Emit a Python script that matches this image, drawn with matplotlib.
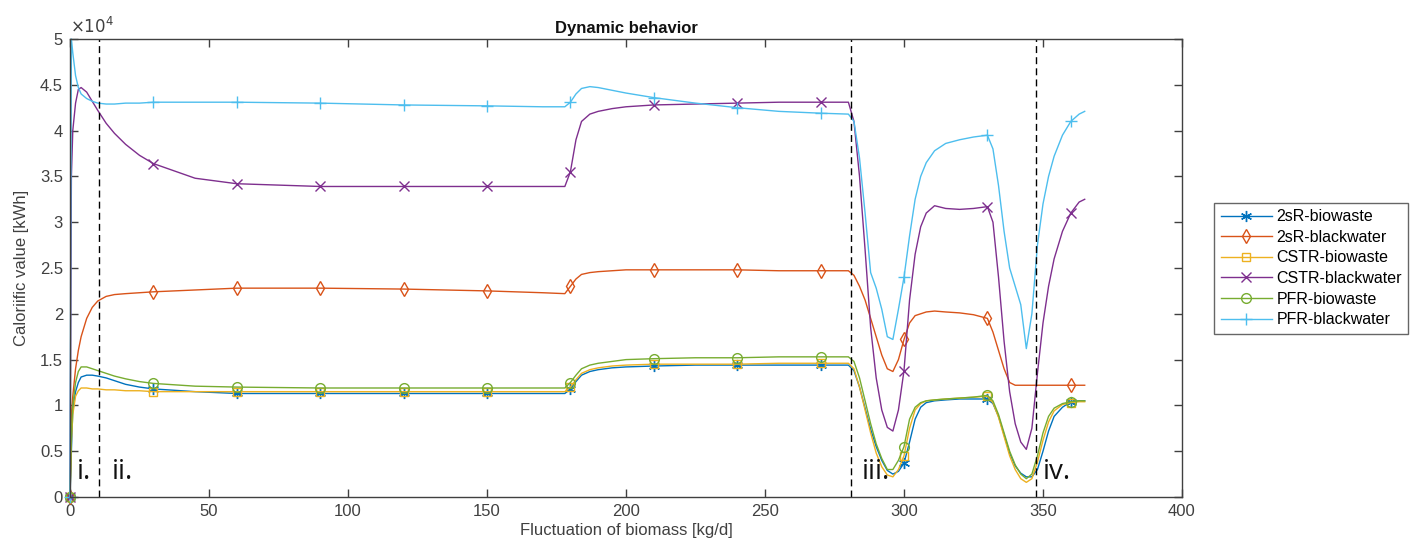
import matplotlib
matplotlib.use("Agg")
import matplotlib.pyplot as plt

plt.rcParams['font.family'] = ['Liberation Sans', 'DejaVu Sans']

# --- Time axis [d] ---
t = [0, 0.5, 1, 2, 3, 4, 6, 8, 10, 13, 16, 20, 25,
     30, 45, 60, 90, 120, 150, 170, 178,
     180, 182, 184, 187, 190, 195, 200,
     210, 225, 240, 255, 270, 280,
     282, 284, 286, 288, 290, 292, 294, 296, 298, 300, 302, 304, 306, 308, 311, 315, 320, 325,
     330, 332, 334, 336, 338, 340, 342, 344, 346, 348, 350, 352, 354, 357, 360, 363, 365]

# --- Calorific value [x 1e4 kWh] ---
sR_bio = [0, 0.5, 0.95, 1.15, 1.25, 1.31, 1.33, 1.33, 1.32, 1.30, 1.27, 1.23, 1.20,
          1.18, 1.15, 1.13, 1.13, 1.13, 1.13, 1.13, 1.13,
          1.18, 1.26, 1.33, 1.37, 1.39, 1.41, 1.42,
          1.43, 1.44, 1.44, 1.44, 1.44, 1.44,
          1.38, 1.20, 0.97, 0.74, 0.55, 0.40, 0.29, 0.25, 0.28, 0.37, 0.60, 0.85, 0.98, 1.03, 1.05, 1.06, 1.07, 1.07,
          1.07, 1.02, 0.88, 0.68, 0.48, 0.34, 0.26, 0.22, 0.22, 0.30, 0.50, 0.72, 0.88, 0.98, 1.04, 1.05, 1.05]

sR_black = [0, 0.9, 1.1, 1.4, 1.6, 1.75, 1.95, 2.07, 2.14, 2.19, 2.21, 2.22, 2.23,
            2.24, 2.26, 2.28, 2.28, 2.27, 2.25, 2.23, 2.22,
            2.30, 2.38, 2.43, 2.45, 2.46, 2.47, 2.48,
            2.48, 2.48, 2.48, 2.47, 2.47, 2.47,
            2.42, 2.30, 2.15, 1.95, 1.75, 1.55, 1.40, 1.37, 1.50, 1.72, 1.90, 1.98, 2.00, 2.02, 2.03, 2.02, 2.01, 1.99,
            1.95, 1.80, 1.60, 1.40, 1.25, 1.22, 1.22, 1.22, 1.22, 1.22, 1.22, 1.22, 1.22, 1.22, 1.22, 1.22, 1.22]

cstr_bio = [0, 0.6, 0.9, 1.1, 1.16, 1.19, 1.19, 1.18, 1.18, 1.17, 1.17, 1.16, 1.16,
            1.15, 1.15, 1.15, 1.15, 1.15, 1.15, 1.15, 1.15,
            1.20, 1.28, 1.35, 1.39, 1.41, 1.43, 1.44,
            1.45, 1.45, 1.45, 1.46, 1.46, 1.46,
            1.40, 1.20, 0.95, 0.70, 0.48, 0.33, 0.24, 0.22, 0.30, 0.45, 0.75, 0.95, 1.02, 1.05, 1.06, 1.07, 1.08, 1.09,
            1.10, 1.03, 0.87, 0.66, 0.45, 0.30, 0.20, 0.16, 0.20, 0.38, 0.62, 0.82, 0.94, 1.01, 1.03, 1.04, 1.04]

cstr_black = [0, 3.5, 4.0, 4.3, 4.45, 4.47, 4.42, 4.32, 4.22, 4.08, 3.97, 3.85, 3.73,
              3.64, 3.48, 3.42, 3.39, 3.39, 3.39, 3.39, 3.39,
              3.55, 3.90, 4.10, 4.18, 4.21, 4.24, 4.26,
              4.28, 4.29, 4.30, 4.31, 4.31, 4.31,
              4.10, 3.50, 2.70, 1.85, 1.30, 0.95, 0.76, 0.72, 0.95, 1.38, 2.15, 2.65, 2.95, 3.10, 3.18, 3.15, 3.14, 3.15,
              3.17, 3.00, 2.40, 1.70, 1.15, 0.80, 0.60, 0.52, 0.75, 1.35, 1.90, 2.30, 2.60, 2.90, 3.10, 3.22, 3.25]

pfr_bio = [0, 0.7, 1.0, 1.25, 1.37, 1.42, 1.42, 1.40, 1.38, 1.35, 1.32, 1.29, 1.26,
           1.24, 1.21, 1.20, 1.19, 1.19, 1.19, 1.19, 1.19,
           1.25, 1.33, 1.40, 1.44, 1.46, 1.48, 1.50,
           1.51, 1.52, 1.52, 1.53, 1.53, 1.53,
           1.48, 1.30, 1.05, 0.80, 0.58, 0.42, 0.30, 0.30, 0.40, 0.55, 0.85, 0.98, 1.03, 1.05, 1.06, 1.07, 1.08, 1.09,
           1.11, 1.05, 0.90, 0.70, 0.50, 0.35, 0.25, 0.20, 0.25, 0.45, 0.70, 0.88, 0.97, 1.02, 1.04, 1.05, 1.05]

pfr_black = [0, 5.0, 4.85, 4.6, 4.47, 4.4, 4.35, 4.32, 4.30, 4.29, 4.29, 4.30, 4.30,
             4.31, 4.31, 4.31, 4.30, 4.28, 4.27, 4.26, 4.26,
             4.31, 4.40, 4.46, 4.48, 4.47, 4.44, 4.41,
             4.36, 4.30, 4.25, 4.21, 4.19, 4.18,
             4.10, 3.70, 3.10, 2.45, 2.28, 2.05, 1.75, 1.72, 2.05, 2.40, 2.85, 3.25, 3.50, 3.65, 3.78, 3.86, 3.90, 3.93,
             3.95, 3.80, 3.40, 2.90, 2.50, 2.30, 2.10, 1.62, 2.00, 2.75, 3.20, 3.50, 3.72, 3.95, 4.10, 4.18, 4.21]

labels = ['2sR-biowaste', '2sR-blackwater', 'CSTR-biowaste',
          'CSTR-blackwater', 'PFR-biowaste', 'PFR-blackwater']
colors = ['#0072BD', '#D95319', '#EDB120', '#7E2F8E', '#77AC30', '#4DBEEE']
markers = [(6, 2, 0), 'd', 's', 'x', 'o', '+']
msizes = [8, 7, 6, 7, 7, 9]
series = [sR_bio, sR_black, cstr_bio, cstr_black, pfr_bio, pfr_black]

# phase boundaries and labels
phase_x = [10.5, 281, 347.5]
phase_labels = ['i.', 'ii.', 'iii.', 'iv.']
phase_label_x = [2.5, 15, 285, 350]

# marker every 30 days
mark_idx = [i for i, v in enumerate(t) if v % 30 == 0]

fig = plt.figure(figsize=(14.16, 5.54), dpi=100)
ax = fig.add_axes([70 / 1416, 57 / 554, 1112 / 1416, 458 / 554])

for y, lab, c, m, ms in zip(series, labels, colors, markers, msizes):
    ax.plot(t, y, color=c, lw=1.0, marker=m, markevery=mark_idx, markersize=ms,
            markerfacecolor='none', markeredgewidth=1.0, label=lab, clip_on=False)

for xv in phase_x:
    ax.plot([xv, xv], [0, 5], color='black', ls='--', lw=1.0, dashes=(5, 3))

for lx, lab in zip(phase_label_x, phase_labels):
    ax.text(lx, 0.2, lab, fontsize=20, family='Open Sans', color='#111111')

ax.set_xlim(0, 400)
ax.set_ylim(0, 5)
ax.set_xticks(range(0, 401, 50))
ax.set_yticks([0, 0.5, 1, 1.5, 2, 2.5, 3, 3.5, 4, 4.5, 5])
ax.set_yticklabels(['0', '0.5', '1', '1.5', '2', '2.5', '3', '3.5', '4', '4.5', '5'])
ax.tick_params(direction='in', top=True, right=True, length=6, width=1.0,
               labelsize=12, colors='#404040', pad=5)
for s in ax.spines.values():
    s.set_color('#404040')
    s.set_linewidth(1.0)

ax.text(0, 5.03, r'$\times10^4$', fontsize=12, color='#404040', va='bottom')
ax.set_title('Dynamic behavior', fontsize=12, fontweight='bold', color='#111111', pad=4)
ax.set_xlabel('Fluctuation of biomass [kg/d]', fontsize=12, color='#404040', labelpad=3)
ax.set_ylabel('Caloriific value [kWh]', fontsize=12, color='#404040', labelpad=8)

leg = ax.legend(loc='center', bbox_to_anchor=(0.926, 0.516), bbox_transform=fig.transFigure,
                fontsize=11.5, frameon=True, fancybox=False, handlelength=3.2,
                borderpad=0.4, labelspacing=0.35, handletextpad=0.3, borderaxespad=0)
leg.get_frame().set_edgecolor('#404040')
leg.get_frame().set_linewidth(1.0)

fig.savefig('out.png', dpi=100)
